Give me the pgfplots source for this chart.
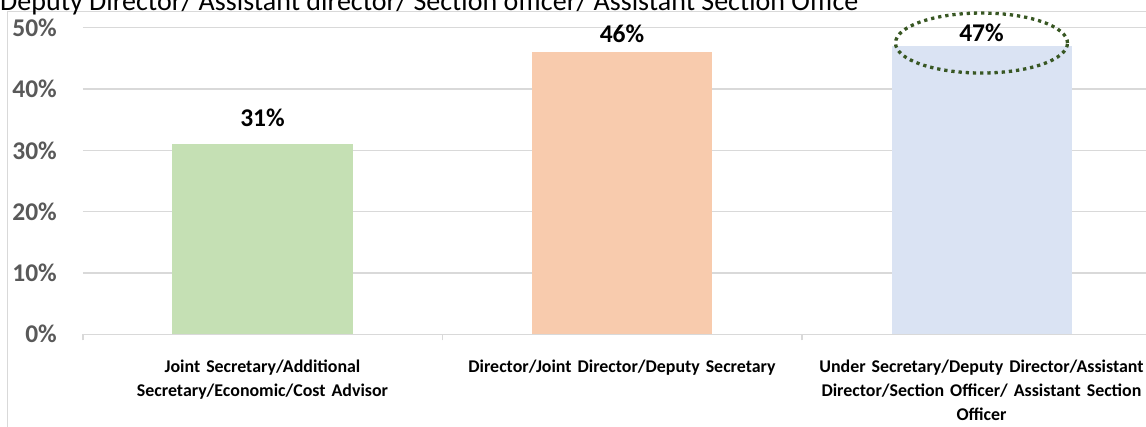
\documentclass[border=0pt]{standalone}
\usepackage{pgfplots}
\pgfplotsset{compat=1.18}
\usepackage{fontspec}
\setmainfont{Carlito}
\definecolor{gridc}{HTML}{D9D9D9}
\definecolor{tickc}{HTML}{595959}
\definecolor{barg}{HTML}{C5E0B4}
\definecolor{baro}{HTML}{F8CBAD}
\definecolor{barb}{HTML}{DAE3F3}
\definecolor{ellc}{HTML}{385723}
\begin{document}
\begin{tikzpicture}[x=1pt,y=1pt]
\path[use as bounding box] (0,0) rectangle (1146,426);
\clip (0,0) rectangle (1146,426);
\draw[gridc, line width=1.5pt] (7.3,-5) -- (7.3,414.3) -- (1170,414.3);
\node[anchor=base west, inner sep=0pt, font=\fontsize{28}{32}\selectfont] at (0,415.8) {Deputy Director/ Assistant director/ Section officer/ Assistant Section Office};
\begin{axis}[
  at={(82.75pt,91.7pt)}, anchor=south west,
  scale only axis, width=1078.5pt, height=306.6pt,
  xmin=-0.5, xmax=2.5, ymin=0, ymax=50,
  clip=false,
  /pgf/number format/assume math mode=true,
  axis line style={draw=none},
  ybar, bar width=180pt, bar shift=0pt,
  ytick={0,10,20,30,40,50},
  yticklabel={\pgfmathprintnumber{\tick}\%},
  ymajorgrids, grid style={gridc, line width=1.5pt},
  xtick={0,1,2},
  xticklabels={{Joint Secretary/Additional\\Secretary/Economic/Cost Advisor},{Director/Joint Director/Deputy Secretary},{Under Secretary/Deputy Director/Assistant\\Director/Section Officer/ Assistant Section\\Officer}},
  minor xtick={-0.5,0.5,1.5,2.5},
  xtick pos=bottom, ytick pos=left,
  tick align=outside,
  major tick length=0pt, minor tick length=6pt,
  minor tick style={gridc, line width=1.5pt},
  yticklabel style={font=\bfseries\fontsize{25.5}{30}\selectfont, text=tickc, anchor=east, inner sep=0pt, xshift=-25.75pt},
  xticklabel style={font=\bfseries\fontsize{17.9}{24}\selectfont, text=black, anchor=north, inner sep=0pt, text width=345pt, align=center, yshift=-25pt},
  nodes near coords={\pgfmathprintnumber{\pgfplotspointmeta}\%},
  nodes near coords style={anchor=center, font=\bfseries\fontsize{25.5}{30}\selectfont, text=black, inner sep=0pt},
]
\addplot[fill=barg, draw=none, nodes near coords style={yshift=26.3pt}] coordinates {(0,31)};
\addplot[fill=baro, draw=none, nodes near coords style={yshift=18.5pt}] coordinates {(1,46)};
\addplot[fill=barb, draw=none, nodes near coords style={yshift=13pt}] coordinates {(2,47)};
\draw[ellc, line width=3.3pt, dash pattern=on 3.3pt off 3.9pt] (axis cs:2,47.5) ellipse [x radius=86pt, y radius=30pt];
\end{axis}
\end{tikzpicture}
\end{document}
